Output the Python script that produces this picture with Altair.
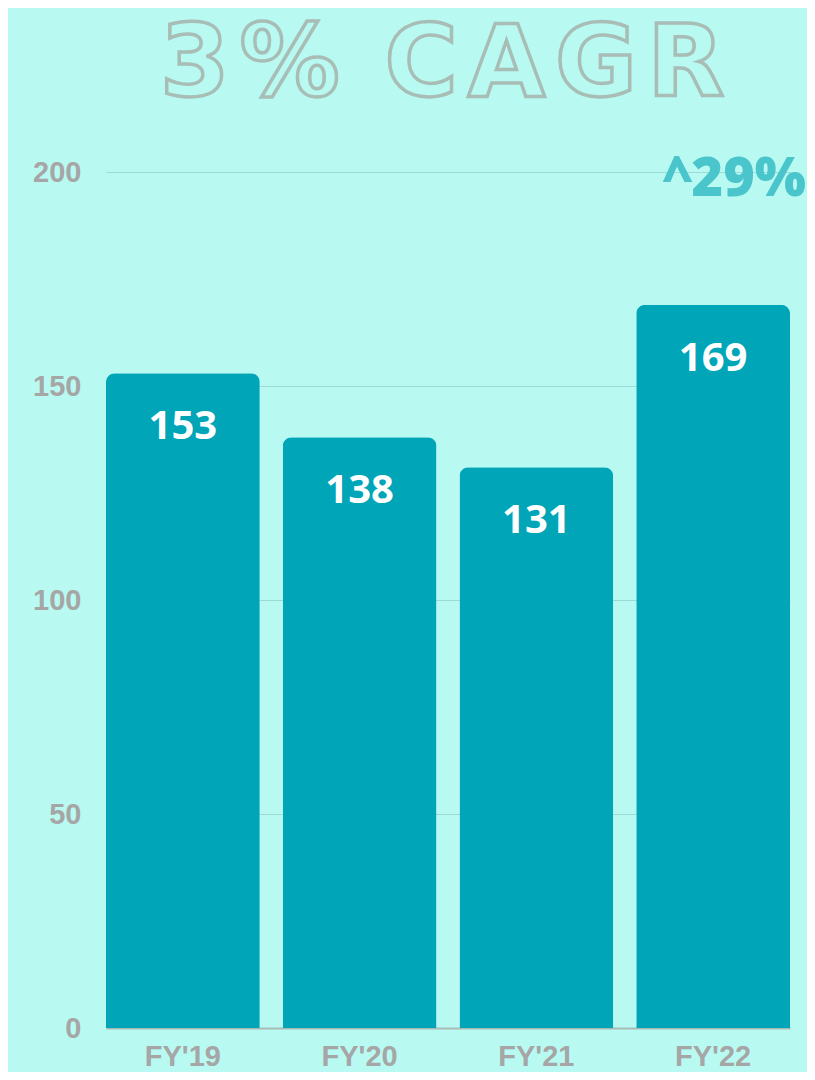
import altair as alt
import pandas as pd

categories = ["FY'19", "FY'20", "FY'21", "FY'22"]
values = [153, 138, 131, 169]
y_ticks = [0, 50, 100, 150, 200]
HS = "\u200a"
title_text = HS.join(list("3%")) + " " + HS + HS.join(list("CAGR"))
growth_text = "^29%"

df = pd.DataFrame({"year": categories, "value": values})

W, H = 684, 856

base = alt.Chart(df).encode(
    x=alt.X("year:N", sort=categories,
            scale=alt.Scale(paddingInner=0.13, paddingOuter=0),
            axis=alt.Axis(title=None, labelAngle=0, labelFont="Liberation Sans",
                          labelFontWeight="bold", labelFontSize=29, labelColor="#a6a6a6",
                          labelPadding=14, ticks=False, domain=True, domainColor="#a9b9b6",
                          domainWidth=2, grid=False)),
)

bars = base.mark_bar(color="#00a5b8", cornerRadiusTopLeft=9, cornerRadiusTopRight=9).encode(
    y=alt.Y("value:Q", scale=alt.Scale(domain=[0, 200], nice=False),
            axis=alt.Axis(title=None, values=y_ticks, labelFont="Liberation Sans",
                          labelFontWeight="bold", labelFontSize=29, labelColor="#a6a6a6",
                          labelPadding=25, ticks=False, domain=False, grid=True,
                          gridColor="#9fd8d4", gridWidth=1)),
)

labels = base.mark_text(font="Open Sans", fontWeight="bold", fontSize=40, color="white",
                        baseline="middle", dy=54).encode(
    y=alt.Y("value:Q"),
    text=alt.Text("value:Q"),
)

title = alt.Chart(pd.DataFrame({"t": [title_text]})).mark_text(
    font="DejaVu Sans", fontWeight="bold", fontSize=100, fill="transparent", fillOpacity=0,
    stroke="#a8bdb6", strokeWidth=3.5, align="center", baseline="alphabetic"
).encode(x=alt.value(336), y=alt.value(-76), text="t:N")

growth = alt.Chart(pd.DataFrame({"t": [growth_text]})).mark_text(
    font="Open Sans", fontWeight=800, fontSize=54, color="#4bc5cc", align="right",
    baseline="alphabetic"
).encode(x=alt.value(700), y=alt.value(24), text="t:N")

chart = alt.layer(bars, labels, title, growth).properties(
    width=W, height=H,
    autosize=alt.AutoSizeParams(type="none"),
    padding={"left": 98, "top": 164, "right": 17, "bottom": 44},
    background="#b8faf2",
).configure_view(stroke=None)

chart.save("out.html", embed_options={"renderer": "svg", "actions": False})
